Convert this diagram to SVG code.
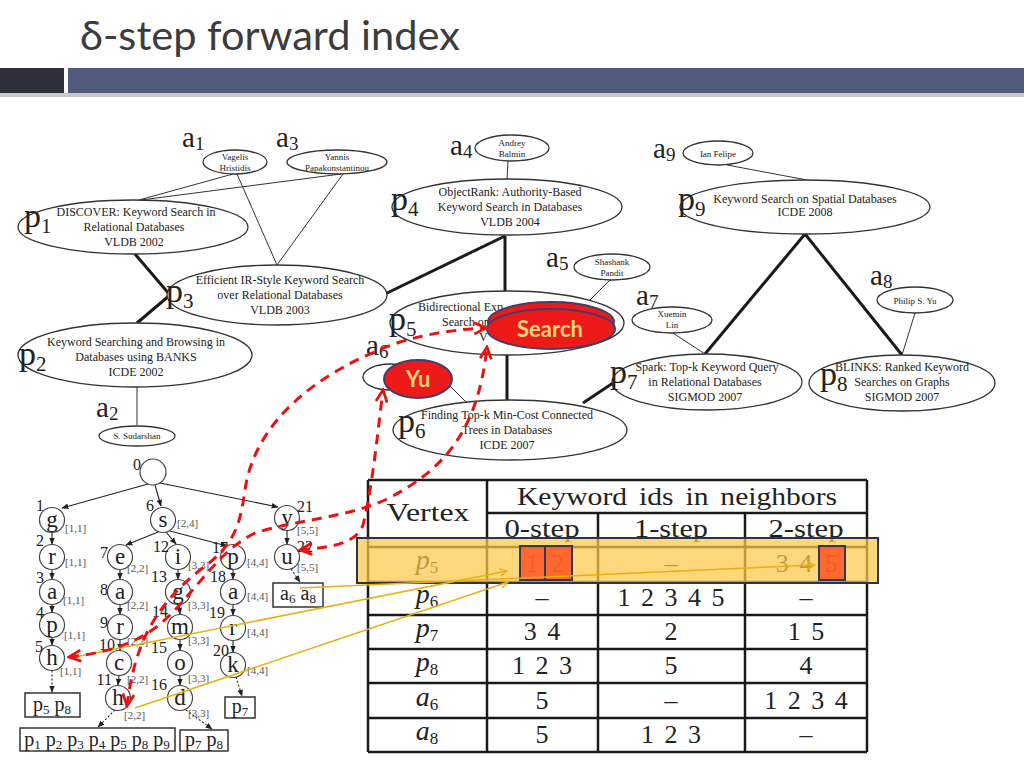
<svg xmlns="http://www.w3.org/2000/svg" width="1024" height="768" viewBox="0 0 1024 768">
<defs>
<style>
.ttl{font-family:"Lato","Open Sans",sans-serif;font-size:40px;fill:#3c3c3c}
.e{fill:#fff;stroke:#333;stroke-width:1.3}
.t{font-family:"Liberation Serif",serif;font-size:12px;fill:#222;text-anchor:middle}
.tl{font-family:"Liberation Serif",serif;font-size:12px;fill:#222;text-anchor:start}
.ts{font-family:"Liberation Serif",serif;font-size:9px;fill:#222;text-anchor:middle}
.lp{font-family:"Liberation Serif",serif;font-size:34px;fill:#222}
.la{font-family:"Liberation Serif",serif;font-size:29px;fill:#222}
.thin{stroke:#333;stroke-width:1;fill:none}
.thick{stroke:#1a1a1a;stroke-width:3;fill:none}
.nd{fill:#fff;stroke:#444;stroke-width:1.2}
.nl{font-family:"Liberation Serif",serif;font-size:23px;fill:#222;text-anchor:middle}
.num{font-family:"Liberation Serif",serif;font-size:16px;fill:#222;text-anchor:end}
.br{font-family:"Liberation Serif",serif;font-size:11px;fill:#555}
.te{stroke:#222;stroke-width:1.1;fill:none;marker-end:url(#ah)}
.td{stroke:#222;stroke-width:1.1;fill:none;stroke-dasharray:2,2;marker-end:url(#ah)}
.box{fill:#fff;stroke:#333;stroke-width:1.5}
.bt{font-family:"Liberation Serif",serif;font-size:20px;fill:#222;text-anchor:middle}
.tb{stroke:#1a1a1a;stroke-width:2.5}
.tt{font-family:"Liberation Serif",serif;font-size:26px;fill:#222;text-anchor:middle;word-spacing:4px}
.rl{font-family:"Liberation Serif",serif;font-size:28px;font-style:italic;fill:#222;text-anchor:middle}
.rd{stroke:#e81212;stroke-width:3;fill:none;stroke-dasharray:10,7;marker-start:url(#ra);marker-end:url(#ra)}
.yl{stroke:#e8b010;stroke-width:1.5;fill:none;marker-end:url(#ya)}
.hl{font-family:"Lato","Open Sans",sans-serif;font-weight:bold;font-size:22px;fill:#f3d478;text-anchor:middle}
.red{fill:#ee1a1a;stroke:#3f3f6e;stroke-width:2}
</style>
<marker id="ah" viewBox="0 0 10 10" refX="9" refY="5" markerWidth="7" markerHeight="7" orient="auto" markerUnits="userSpaceOnUse"><path d="M0,1 L10,5 L0,9 Z" fill="#222"/></marker>
<marker id="ra" viewBox="0 0 12 12" refX="10.5" refY="6" markerWidth="15" markerHeight="15" orient="auto-start-reverse" markerUnits="userSpaceOnUse"><path d="M1,1.5 L10.5,6 L1,10.5" fill="none" stroke="#e81212" stroke-width="2.2"/></marker>
<marker id="ya" viewBox="0 0 10 10" refX="9" refY="5" markerWidth="9" markerHeight="9" orient="auto" markerUnits="userSpaceOnUse"><path d="M1,1 L9,5 L1,9" fill="none" stroke="#e8b010" stroke-width="1.5"/></marker>
</defs>
<rect width="1024" height="768" fill="#fff"/>

<g id="header">
<rect x="0" y="93" width="1024" height="4" fill="#c9c9c9"/>
<rect x="0" y="68" width="64" height="25" fill="#2f303c"/>
<rect x="68" y="68" width="956" height="25" fill="#525a7d"/>
<text class="ttl" x="80" y="50" textLength="380" lengthAdjust="spacingAndGlyphs">δ-step forward index</text>
</g>

<g id="graph-edges">
<line class="thin" x1="233" y1="174" x2="139" y2="200"/>
<line class="thin" x1="341" y1="174" x2="141" y2="200"/>
<line class="thin" x1="237" y1="174" x2="277" y2="265"/>
<line class="thin" x1="343" y1="174" x2="277" y2="265"/>
<line class="thin" x1="137" y1="387" x2="137" y2="425"/>
<line class="thin" x1="508" y1="161" x2="507" y2="179"/>
<line class="thin" x1="610" y1="280" x2="590" y2="300"/>
<line class="thin" x1="450" y1="386" x2="467" y2="403"/>
<line class="thin" x1="727" y1="165" x2="807" y2="180"/>
<line class="thin" x1="673" y1="333" x2="705" y2="354"/>
<line class="thin" x1="915" y1="313" x2="902" y2="355"/>
<line class="thick" x1="135" y1="254" x2="170" y2="295"/>
<line class="thick" x1="137" y1="323" x2="170" y2="295"/>
<line class="thick" x1="505" y1="236" x2="385" y2="294"/>
<line class="thick" x1="505" y1="236" x2="505" y2="291"/>
<line class="thick" x1="507" y1="355" x2="507" y2="400"/>
<line class="thick" x1="583" y1="403" x2="613" y2="383"/>
<line class="thick" x1="805" y1="234" x2="705" y2="354"/>
<line class="thick" x1="805" y1="234" x2="902" y2="355"/>
</g>

<g id="a1"><ellipse class="e" cx="235" cy="162" rx="32" ry="12"/><text class="ts" x="235" y="160">Vagelis</text><text class="ts" x="235" y="171">Hristidis</text><text class="la" x="182" y="147">a<tspan font-size="19" dy="3">1</tspan></text></g>
<g id="a3"><ellipse class="e" cx="337" cy="162" rx="50" ry="12"/><text class="ts" x="337" y="160">Yannis</text><text class="ts" x="337" y="171">Papakonstantinou</text><text class="la" x="276" y="147">a<tspan font-size="19" dy="3">3</tspan></text></g>
<g id="p1"><ellipse class="e" cx="133" cy="227" rx="115" ry="27"/><text class="t" x="136" y="216">DISCOVER: Keyword Search in</text><text class="t" x="134" y="231">Relational Databases</text><text class="t" x="134" y="246">VLDB 2002</text><text class="lp" x="24" y="227">p<tspan font-size="21" dy="6">1</tspan></text></g>
<g id="p3"><ellipse class="e" cx="277" cy="295" rx="110" ry="30"/><text class="t" x="280" y="284">Efficient IR-Style Keyword Search</text><text class="t" x="280" y="299">over Relational Databases</text><text class="t" x="280" y="314">VLDB 2003</text><text class="lp" x="166" y="302">p<tspan font-size="21" dy="6">3</tspan></text></g>
<g id="p2"><ellipse class="e" cx="135" cy="355" rx="117" ry="32"/><text class="t" x="136" y="346">Keyword Searching and Browsing in</text><text class="t" x="136" y="361">Databases using BANKS</text><text class="t" x="136" y="376">ICDE 2002</text><text class="lp" x="19" y="365">p<tspan font-size="21" dy="6">2</tspan></text></g>
<g id="a2"><ellipse class="e" cx="137" cy="436" rx="38" ry="10"/><text class="ts" x="137" y="439">S. Sudarshan</text><text class="la" x="96" y="417">a<tspan font-size="19" dy="3">2</tspan></text></g>
<g id="a4"><ellipse class="e" cx="512" cy="148" rx="37" ry="13"/><text class="ts" x="512" y="146">Andrey</text><text class="ts" x="512" y="157">Balmin</text><text class="la" x="450" y="155">a<tspan font-size="19" dy="3">4</tspan></text></g>
<g id="p4"><ellipse class="e" cx="507" cy="207" rx="115" ry="28"/><text class="t" x="510" y="196">ObjectRank: Authority-Based</text><text class="t" x="510" y="211">Keyword  Search in Databases</text><text class="t" x="510" y="226">VLDB 2004</text><text class="lp" x="391" y="210">p<tspan font-size="21" dy="6">4</tspan></text></g>
<g id="a5"><ellipse class="e" cx="612" cy="267" rx="38" ry="13"/><text class="ts" x="612" y="265">Shashank</text><text class="ts" x="612" y="276">Pandit</text><text class="la" x="546" y="267">a<tspan font-size="19" dy="3">5</tspan></text></g>
<g id="p5"><ellipse class="e" cx="507" cy="323" rx="117" ry="32"/><text class="tl" x="418" y="311">Bidirectional Exp</text><text class="tl" x="442" y="326">Search on</text><text class="tl" x="479" y="341">V</text><text class="lp" x="389" y="330">p<tspan font-size="21" dy="6">5</tspan></text></g>
<g id="a6"><ellipse class="e" cx="390" cy="377" rx="27" ry="13"/><text class="la" x="366" y="355">a<tspan font-size="19" dy="3">6</tspan></text></g>
<g id="p6"><ellipse class="e" cx="510" cy="430" rx="117" ry="30"/><text class="t" x="507" y="419">Finding Top-k Min-Cost Connected</text><text class="t" x="507" y="434">Trees in Databases</text><text class="t" x="507" y="449">ICDE 2007</text><text class="lp" x="398" y="432">p<tspan font-size="21" dy="6">6</tspan></text></g>
<g id="a9"><ellipse class="e" cx="718" cy="153" rx="35" ry="12"/><text class="ts" x="718" y="157">Ian Felipe</text><text class="la" x="653" y="158">a<tspan font-size="19" dy="3">9</tspan></text></g>
<g id="p9"><ellipse class="e" cx="805" cy="207" rx="125" ry="27"/><text class="t" x="805" y="203">Keyword Search on Spatial Databases</text><text class="t" x="805" y="216">ICDE 2008</text><text class="lp" x="678" y="210">p<tspan font-size="21" dy="6">9</tspan></text></g>
<g id="a8"><ellipse class="e" cx="915" cy="300" rx="38" ry="13"/><text class="ts" x="915" y="304">Philip S. Yu</text><text class="la" x="870" y="285">a<tspan font-size="19" dy="3">8</tspan></text></g>
<g id="a7"><ellipse class="e" cx="672" cy="320" rx="40" ry="13"/><text class="ts" x="672" y="317">Xuemin</text><text class="ts" x="672" y="328">Lin</text><text class="la" x="636" y="305">a<tspan font-size="19" dy="3">7</tspan></text></g>
<g id="p7"><ellipse class="e" cx="707" cy="382" rx="95" ry="28"/><text class="t" x="707" y="371">Spark: Top-k Keyword Query</text><text class="t" x="705" y="386">in Relational Databases</text><text class="t" x="705" y="401">SIGMOD 2007</text><text class="lp" x="610" y="383">p<tspan font-size="21" dy="6">7</tspan></text></g>
<g id="p8"><ellipse class="e" cx="902" cy="383" rx="93" ry="28"/><text class="t" x="902" y="371">BLINKS: Ranked Keyword</text><text class="t" x="902" y="386">Searches on Graphs</text><text class="t" x="902" y="401">SIGMOD 2007</text><text class="lp" x="820" y="385">p<tspan font-size="21" dy="6">8</tspan></text></g>

<g id="search-kw"><ellipse class="red" cx="551" cy="322" rx="63" ry="20"/><ellipse class="red" cx="551" cy="329" rx="64" ry="20"/><text class="hl" x="550" y="337">Search</text></g>
<g id="yu-kw"><ellipse class="red" cx="418" cy="379" rx="34" ry="19"/><text class="hl" x="418" y="387">Yu</text></g>

<g id="trie-edges">
<line class="te" x1="148" y1="484" x2="62" y2="508"/>
<line class="te" x1="155" y1="485" x2="161" y2="506"/>
<line class="te" x1="160" y1="483" x2="278" y2="507"/>
<line class="te" x1="52" y1="532.5" x2="52" y2="544"/>
<line class="te" x1="52" y1="569.5" x2="52" y2="579"/>
<line class="te" x1="52" y1="604.5" x2="52" y2="612"/>
<line class="te" x1="52" y1="637.5" x2="52" y2="645"/>
<line class="td" x1="52" y1="670.5" x2="52" y2="692"/>
<line class="te" x1="158" y1="532" x2="126" y2="545"/>
<line class="te" x1="166" y1="532" x2="176" y2="544"/>
<line class="te" x1="170" y1="531" x2="227" y2="546"/>
<line class="te" x1="120" y1="569.5" x2="120" y2="579"/>
<line class="te" x1="120" y1="604.5" x2="120" y2="614"/>
<line class="te" x1="120" y1="639.5" x2="120" y2="650"/>
<line class="te" x1="119" y1="675.5" x2="118" y2="685"/>
<line class="td" x1="115" y1="710" x2="98" y2="727"/>
<line class="te" x1="178" y1="569.5" x2="178" y2="579"/>
<line class="te" x1="179" y1="604.5" x2="180" y2="614"/>
<line class="te" x1="180" y1="639.5" x2="180" y2="650"/>
<line class="te" x1="180" y1="675.5" x2="180" y2="685"/>
<line class="td" x1="186" y1="710" x2="212" y2="729"/>
<line class="te" x1="233" y1="569.5" x2="233" y2="579"/>
<line class="te" x1="233" y1="604.5" x2="233" y2="615"/>
<line class="te" x1="233" y1="640.5" x2="233" y2="652"/>
<line class="td" x1="236" y1="677" x2="242" y2="696"/>
<line class="te" x1="287" y1="530.5" x2="287" y2="544"/>
<line class="td" x1="291" y1="569" x2="300" y2="582"/>
</g>

<g id="trie-nodes">
<g id="n0"><circle class="nd" cx="153" cy="472" r="13"/><text class="num" x="141" y="470">0</text></g>
<g id="n1"><circle class="nd" cx="52" cy="520" r="12.5"/><text class="nl" x="52" y="527">g</text><text class="num" x="44" y="511">1</text><text class="br" x="65" y="532">[1,1]</text></g>
<g id="n2"><circle class="nd" cx="52" cy="557" r="12.5"/><text class="nl" x="52" y="564">r</text><text class="num" x="44" y="546">2</text><text class="br" x="65" y="566">[1,1]</text></g>
<g id="n3"><circle class="nd" cx="52" cy="592" r="12.5"/><text class="nl" x="52" y="599">a</text><text class="num" x="44" y="583">3</text><text class="br" x="63" y="604">[1,1]</text></g>
<g id="n4"><circle class="nd" cx="52" cy="625" r="12.5"/><text class="nl" x="52" y="632">p</text><text class="num" x="44" y="618">4</text><text class="br" x="64" y="639">[1,1]</text></g>
<g id="n5"><circle class="nd" cx="52" cy="658" r="12.5"/><text class="nl" x="52" y="665">h</text><text class="num" x="43" y="652">5</text><text class="br" x="60" y="675">[1,1]</text></g>
<g id="n6"><circle class="nd" cx="163" cy="520" r="12.5"/><text class="nl" x="163" y="527">s</text><text class="num" x="154" y="511">6</text><text class="br" x="177" y="527">[2,4]</text></g>
<g id="n7"><circle class="nd" cx="120" cy="557" r="12.5"/><text class="nl" x="120" y="564">e</text><text class="num" x="108" y="558">7</text><text class="br" x="127" y="572">[2,2]</text></g>
<g id="n8"><circle class="nd" cx="120" cy="592" r="12.5"/><text class="nl" x="120" y="599">a</text><text class="num" x="108" y="595">8</text><text class="br" x="127" y="609">[2,2]</text></g>
<g id="n9"><circle class="nd" cx="120" cy="627" r="12.5"/><text class="nl" x="120" y="634">r</text><text class="num" x="108" y="628">9</text><text class="br" x="127" y="645">[2,2]</text></g>
<g id="n10"><circle class="nd" cx="119" cy="663" r="12.5"/><text class="nl" x="119" y="670">c</text><text class="num" x="115" y="650">10</text><text class="br" x="127" y="683">[2,2]</text></g>
<g id="n11"><circle class="nd" cx="118" cy="698" r="12.5"/><text class="nl" x="118" y="705">h</text><text class="num" x="112" y="685">11</text><text class="br" x="124" y="719">[2,2]</text></g>
<g id="n12"><circle class="nd" cx="178" cy="557" r="12.5"/><text class="nl" x="178" y="564">i</text><text class="num" x="169" y="552">12</text><text class="br" x="188" y="569">[3,3]</text></g>
<g id="n13"><circle class="nd" cx="178" cy="592" r="12.5"/><text class="nl" x="178" y="599">g</text><text class="num" x="167" y="582">13</text><text class="br" x="188" y="609">[3,3]</text></g>
<g id="n14"><circle class="nd" cx="180" cy="627" r="12.5"/><text class="nl" x="180" y="634">m</text><text class="num" x="168" y="617">14</text><text class="br" x="188" y="644">[3,3]</text></g>
<g id="n15"><circle class="nd" cx="180" cy="663" r="12.5"/><text class="nl" x="180" y="670">o</text><text class="num" x="167" y="653">15</text><text class="br" x="188" y="682">[3,3]</text></g>
<g id="n16"><circle class="nd" cx="180" cy="698" r="12.5"/><text class="nl" x="180" y="705">d</text><text class="num" x="167" y="690">16</text><text class="br" x="188" y="717">[3,3]</text></g>
<g id="n17"><circle class="nd" cx="233" cy="557" r="12.5"/><text class="nl" x="233" y="564">p</text><text class="num" x="228" y="553">17</text><text class="br" x="247" y="566">[4,4]</text></g>
<g id="n18"><circle class="nd" cx="233" cy="592" r="12.5"/><text class="nl" x="233" y="599">a</text><text class="num" x="226" y="582">18</text><text class="br" x="247" y="600">[4,4]</text></g>
<g id="n19"><circle class="nd" cx="233" cy="628" r="12.5"/><text class="nl" x="233" y="635">r</text><text class="num" x="225" y="618">19</text><text class="br" x="247" y="636">[4,4]</text></g>
<g id="n20"><circle class="nd" cx="233" cy="665" r="12.5"/><text class="nl" x="233" y="672">k</text><text class="num" x="229" y="656">20</text><text class="br" x="247" y="674">[4,4]</text></g>
<g id="n21"><circle class="nd" cx="287" cy="518" r="12.5"/><text class="nl" x="287" y="525">y</text><text class="num" x="313" y="512">21</text><text class="br" x="297" y="534">[5,5]</text></g>
<g id="n22"><circle class="nd" cx="287" cy="557" r="12.5"/><text class="nl" x="287" y="564">u</text><text class="num" x="313" y="552">22</text><text class="br" x="297" y="571">[5,5]</text></g>
</g>

<g id="trie-leaves">
<g id="leaf-h5"><rect class="box" x="25" y="693" width="55" height="24"/><text class="bt" x="52" y="711">p<tspan font-size="13" dy="3">5</tspan><tspan dy="-3"> p</tspan><tspan font-size="13" dy="3">8</tspan></text></g>
<g id="leaf-h11"><rect class="box" x="20" y="728" width="155" height="23"/><text class="bt" x="97" y="746">p<tspan font-size="13" dy="3">1</tspan><tspan dy="-3"> p</tspan><tspan font-size="13" dy="3">2</tspan><tspan dy="-3"> p</tspan><tspan font-size="13" dy="3">3</tspan><tspan dy="-3"> p</tspan><tspan font-size="13" dy="3">4</tspan><tspan dy="-3"> p</tspan><tspan font-size="13" dy="3">5</tspan><tspan dy="-3"> p</tspan><tspan font-size="13" dy="3">8</tspan><tspan dy="-3"> p</tspan><tspan font-size="13" dy="3">9</tspan></text></g>
<g id="leaf-d16"><rect class="box" x="180" y="730" width="48" height="21"/><text class="bt" x="204" y="746">p<tspan font-size="13" dy="3">7</tspan><tspan dy="-3"> p</tspan><tspan font-size="13" dy="3">8</tspan></text></g>
<g id="leaf-k20"><rect class="box" x="225" y="697" width="30" height="21"/><text class="bt" x="240" y="713">p<tspan font-size="13" dy="3">7</tspan></text></g>
<g id="leaf-u22"><rect class="box" x="273" y="583" width="50" height="24"/><text class="bt" x="298" y="600">a<tspan font-size="13" dy="3">6</tspan><tspan dy="-3"> a</tspan><tspan font-size="13" dy="3">8</tspan></text></g>
</g>

<g id="table">
<text class="tt" x="428" y="521" font-size="28" textLength="83" lengthAdjust="spacingAndGlyphs">Vertex</text>
<text class="tt" x="677" y="505" font-size="28" textLength="320" lengthAdjust="spacingAndGlyphs">Keyword ids in neighbors</text>
<text class="tt" x="542" y="537" textLength="75" lengthAdjust="spacingAndGlyphs">0-step</text>
<text class="tt" x="671" y="537" textLength="74" lengthAdjust="spacingAndGlyphs">1-step</text>
<text class="tt" x="806" y="537" textLength="75" lengthAdjust="spacingAndGlyphs">2-step</text>
<text class="rl" x="427" y="569">p<tspan font-size="17" dy="4" font-style="normal">5</tspan></text>
<text class="tt" x="532" y="572">1</text><text class="tt" x="558" y="572">2</text>
<text class="tt" x="671" y="572">–</text>
<text class="tt" x="794" y="572">3 4</text><text class="tt" x="831" y="572">5</text>
<text class="rl" x="427" y="603">p<tspan font-size="17" dy="4" font-style="normal">6</tspan></text>
<text class="tt" x="542" y="606">–</text><text class="tt" x="671" y="606">1 2 3 4 5</text><text class="tt" x="806" y="606">–</text>
<text class="rl" x="427" y="637">p<tspan font-size="17" dy="4" font-style="normal">7</tspan></text>
<text class="tt" x="542" y="640">3 4</text><text class="tt" x="671" y="640">2</text><text class="tt" x="806" y="640">1 5</text>
<text class="rl" x="427" y="671">p<tspan font-size="17" dy="4" font-style="normal">8</tspan></text>
<text class="tt" x="542" y="674">1 2 3</text><text class="tt" x="671" y="674">5</text><text class="tt" x="806" y="674">4</text>
<text class="rl" x="427" y="706">a<tspan font-size="17" dy="4" font-style="normal">6</tspan></text>
<text class="tt" x="542" y="709">5</text><text class="tt" x="671" y="709">–</text><text class="tt" x="806" y="709">1 2 3 4</text>
<text class="rl" x="427" y="740">a<tspan font-size="17" dy="4" font-style="normal">8</tspan></text>
<text class="tt" x="542" y="743">5</text><text class="tt" x="671" y="743">1 2 3</text><text class="tt" x="806" y="743">–</text>
<g class="tb">
<line x1="368" y1="480" x2="867" y2="480"/>
<line x1="487" y1="513" x2="867" y2="513"/>
<line x1="368" y1="547" x2="867" y2="547"/>
<line x1="368" y1="582" x2="867" y2="582"/>
<line x1="368" y1="615" x2="867" y2="615"/>
<line x1="368" y1="649" x2="867" y2="649"/>
<line x1="368" y1="683" x2="867" y2="683"/>
<line x1="368" y1="718" x2="867" y2="718"/>
<line x1="368" y1="752" x2="867" y2="752"/>
<line x1="368" y1="480" x2="368" y2="752"/>
<line x1="487" y1="480" x2="487" y2="752"/>
<line x1="598" y1="513" x2="598" y2="752"/>
<line x1="745" y1="513" x2="745" y2="752"/>
<line x1="867" y1="480" x2="867" y2="752"/>
</g>
<rect x="357" y="538" width="521" height="45" fill="#fcc84a" fill-opacity="0.72" stroke="#2f3350" stroke-width="2"/>
<rect x="520" y="546" width="25" height="34" fill="#ff4a1a" fill-opacity="0.78" stroke="#333a55" stroke-width="2"/>
<rect x="545" y="546" width="27" height="34" fill="#ff4a1a" fill-opacity="0.78" stroke="#333a55" stroke-width="2"/>
<rect x="819" y="546" width="26" height="34" fill="#ff4a1a" fill-opacity="0.78" stroke="#333a55" stroke-width="2"/>
</g>

<g id="highlight-connectors">
<line class="yl" x1="70" y1="658" x2="507" y2="571"/>
<line class="yl" x1="135" y1="708" x2="508" y2="582"/>
<line class="yl" x1="300" y1="588" x2="815" y2="565"/>
<path class="rd" d="M127,706 C134,650 150,610 200,570 C235,545 240,525 245,490 C255,420 320,370 400,342 C430,333 460,329 486,328"/>
<path class="rd" d="M69,657 C115,652 145,640 170,615 C200,585 220,550 255,533 C295,520 345,518 385,500 C445,470 478,430 487,347"/>
<path class="rd" d="M300,550 C330,547 355,545 363,525 C372,490 378,430 383,390"/>
</g>
</svg>
